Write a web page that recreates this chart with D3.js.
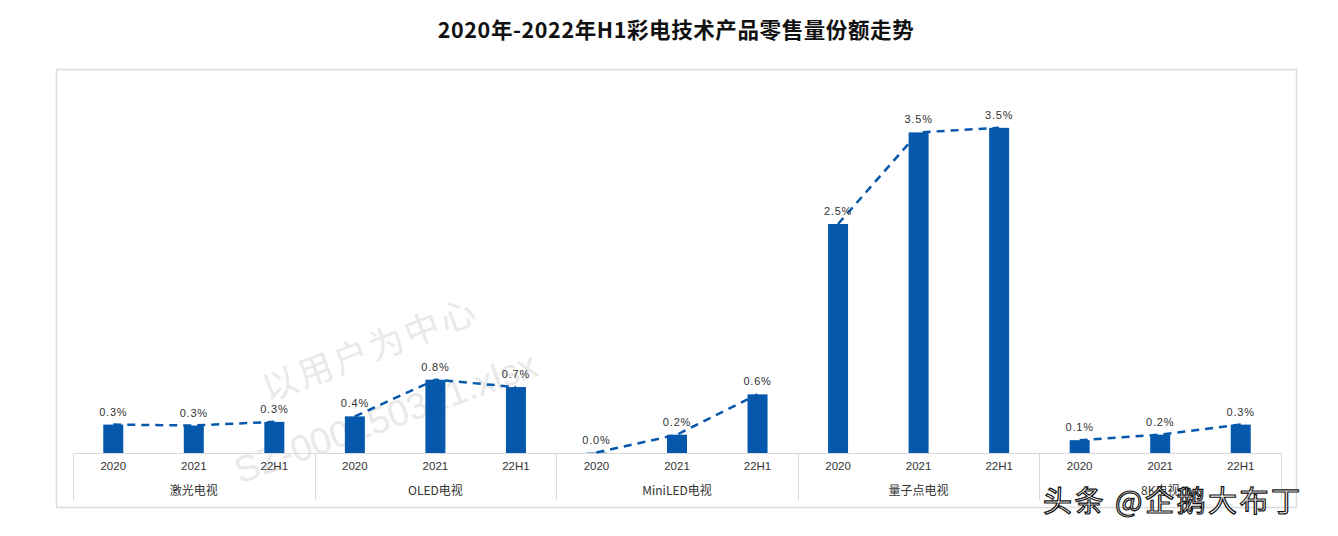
<!DOCTYPE html>
<html><head><meta charset="utf-8">
<script src="https://cdn.jsdelivr.net/npm/d3@7"></script>
<style>
body{margin:0;background:#fff;}
svg{display:block;}
</style></head>
<body>
<svg id="chart" width="1338" height="536"></svg>
<script>
const title = "2020年-2022年H1彩电技术产品零售量份额走势";
const groups = ["激光电视","OLED电视","MiniLED电视","量子点电视","8K电视"];
const periods = ["2020","2021","22H1"];
const laser = [0.31, 0.30, 0.34];
const oled = [0.40, 0.80, 0.72];
const miniled = [0.005, 0.20, 0.64];
const qd = [2.50, 3.50, 3.55];
const k8 = [0.14, 0.20, 0.31];
const seriesValues = [laser, oled, miniled, qd, k8];
const labelsText = [
  ["0.3%","0.3%","0.3%"],
  ["0.4%","0.8%","0.7%"],
  ["0.0%","0.2%","0.6%"],
  ["2.5%","3.5%","3.5%"],
  ["0.1%","0.2%","0.3%"]
];

const svg = d3.select("#chart");
const color = "#0558AB";
const baseY = 453, axisBottom = 500;

// frame
svg.append("rect").attr("x",56.5).attr("y",69.5).attr("width",1240).attr("height",438)
  .attr("fill","none").attr("stroke","#dcdcdc").attr("stroke-width",1.5);

// title
svg.append("text").attr("x",676).attr("y",38).attr("text-anchor","middle")
  .attr("font-family","'Noto Sans CJK SC'").attr("font-weight","bold").attr("font-size",21.5)
  .attr("letter-spacing",0.6).attr("fill","#111").text(title);

const x0 = d3.scaleBand().domain(groups).range([73,1281]).padding(0);
const x1 = d3.scaleBand().domain(periods).range([0,x0.bandwidth()]).padding(0);
const y = d3.scaleLinear().domain([0,4]).range([baseY, baseY-366.4]);
const barW = 20;

// watermark (faint)
const wm = svg.append("g").attr("fill","#e9e9e9");
wm.append("text").attr("transform","translate(268,402) rotate(-21)").attr("font-size",35)
  .attr("letter-spacing",3).attr("font-family","'Noto Sans CJK SC'").text("以用户为中心");
wm.append("text").attr("transform","translate(240,484) rotate(-20)").attr("font-size",37)
  .attr("font-family","Liberation Sans").text("SZ-000150321.xlsx");

// axis lines
const axisG = svg.append("g").attr("stroke","#d9d9d9").attr("stroke-width",1);
axisG.append("line").attr("x1",73).attr("x2",1281).attr("y1",baseY+0.5).attr("y2",baseY+0.5);
groups.forEach(g=>{
  const xs = x0(g);
  axisG.append("line").attr("x1",Math.round(xs)+0.5).attr("x2",Math.round(xs)+0.5).attr("y1",baseY).attr("y2",axisBottom);
});
axisG.append("line").attr("x1",1281.5).attr("x2",1281.5).attr("y1",baseY).attr("y2",axisBottom);

const lineGen = d3.line().x(d=>d.x).y(d=>d.y);

groups.forEach((g,gi)=>{
  const gG = svg.append("g").attr("transform",`translate(${x0(g)},0)`);
  const vals = seriesValues[gi];
  const data = periods.map((p,i)=>({p, v:vals[i], lab:labelsText[gi][i]}));
  gG.selectAll("rect.bar").data(data).enter().append("rect").attr("class","bar")
    .attr("x",d=>x1(d.p)+x1.bandwidth()/2-barW/2).attr("width",barW)
    .attr("y",d=>y(d.v)).attr("height",d=>baseY-y(d.v)).attr("fill",color);
  const pts = data.map(d=>({x:x1(d.p)+x1.bandwidth()/2, y:y(d.v)}));
  gG.append("path").attr("d",lineGen(pts)).attr("fill","none").attr("stroke",color)
    .attr("stroke-width",2.5).attr("stroke-dasharray","8,6");
  gG.selectAll("text.lab").data(data).enter().append("text").attr("class","lab")
    .attr("x",d=>x1(d.p)+x1.bandwidth()/2).attr("y",d=>y(d.v)-9)
    .attr("text-anchor","middle").attr("font-family","Liberation Sans").attr("font-size",11)
    .attr("letter-spacing",0.8).attr("fill","#333").text(d=>d.lab);
  gG.selectAll("text.tick").data(periods).enter().append("text").attr("class","tick")
    .attr("x",d=>x1(d)+x1.bandwidth()/2).attr("y",470)
    .attr("text-anchor","middle").attr("font-family","Liberation Sans").attr("font-size",11.5)
    .attr("fill","#333").text(d=>d);
  gG.append("text").attr("x",x0.bandwidth()/2).attr("y",495).attr("text-anchor","middle")
    .attr("font-family","'Noto Sans CJK SC'").attr("font-size",12).attr("fill","#333").text(g);
});

// source watermark
svg.append("text").attr("x",1043).attr("y",512).attr("font-family","'Noto Sans CJK SC'")
  .attr("font-size",29).attr("fill","#fff").attr("stroke","#111").attr("stroke-width",1.2)
  .attr("letter-spacing",2.5).text("头条 @企鹅大布丁");
</script>
</body></html>
